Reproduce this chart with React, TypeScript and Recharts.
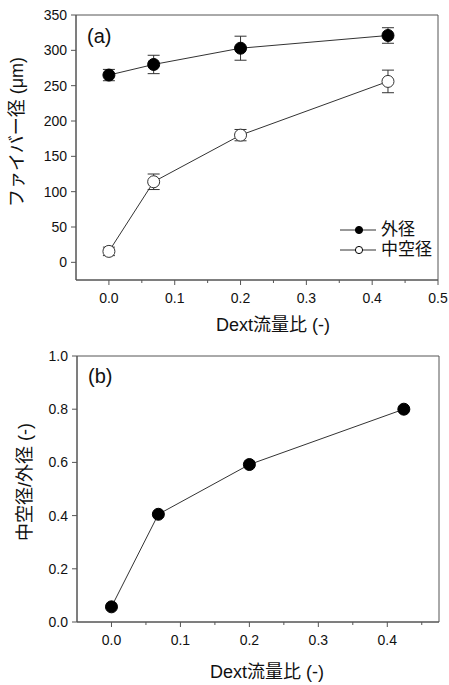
import React from "react";
import {
  LineChart,
  Line,
  XAxis,
  YAxis,
  ErrorBar,
  ReferenceArea,
} from "recharts";

// ---- data ----
const xValues = [0, 0.068, 0.2, 0.424];
const outerDia = [265, 280, 303, 321];
const outerErr = [8, 13, 17, 11];
const hollowDia = [15.5, 114, 180, 256];
const hollowErr = [6, 11, 8, 16];
const ratio = [0.057, 0.405, 0.592, 0.8];

const xTicksA = [0, 0.05, 0.1, 0.15, 0.2, 0.25, 0.3, 0.35, 0.4, 0.45, 0.5];
const xTicksB = [0, 0.05, 0.1, 0.15, 0.2, 0.25, 0.3, 0.35, 0.4, 0.45];
const yTicksA = [0, 50, 100, 150, 200, 250, 300, 350];
const yTicksB = [0, 0.2, 0.4, 0.6, 0.8, 1.0];

const legendLabels = ["外径", "中空径"];
const xTitle = "Dext流量比 (-)";
const yTitleA = "ファイバー径 (μm)";
const yTitleB = "中空径/外径 (-)";

const dataA = xValues.map((x, i) => ({
  x,
  outer: outerDia[i],
  outerErr: outerErr[i],
  hollow: hollowDia[i],
  hollowErr: hollowErr[i],
}));
const dataB = xValues.map((x, i) => ({ x, ratio: ratio[i] }));

const FONT = '"Liberation Sans", Arial, "Noto Sans CJK JP", sans-serif';
const AXIS = "#555";
const LINE = "#333";
const TEXT = "#111";

const XTick = (props: any) => {
  const { x, y, payload } = props;
  const v = payload.value as number;
  const major = Math.abs(v * 10 - Math.round(v * 10)) < 1e-6;
  return (
    <g>
      <line x1={x} x2={x} y1={y} y2={y + (major ? 5 : 3)} stroke={AXIS} strokeWidth={1} />
      {major && (
        <text x={x} y={y + 23} textAnchor="middle" fontSize={14} fontFamily={FONT} fill={TEXT}>
          {v.toFixed(1)}
        </text>
      )}
    </g>
  );
};

const makeXTitle = (dx: number, dy: number) => (props: any) => {
  const vb = props.viewBox || {};
  return (
    <text
      x={vb.x + vb.width / 2 + dx}
      y={vb.y + dy}
      textAnchor="middle"
      fontSize={18}
      fontFamily={FONT}
      fill={TEXT}
    >
      {xTitle}
    </text>
  );
};

const makeYTitle = (text: string, cxOff: number, cyOff: number) => (props: any) => {
  const vb = props.viewBox || {};
  const cx = vb.x + cxOff;
  const cy = vb.y + vb.height / 2 + cyOff;
  return (
    <text
      x={cx}
      y={cy}
      transform={`rotate(-90, ${cx}, ${cy})`}
      textAnchor="middle"
      dominantBaseline="central"
      fontSize={18}
      fontFamily={FONT}
      fill={TEXT}
    >
      {text}
    </text>
  );
};

const tickStyle = { fontSize: 14, fontFamily: FONT, fill: TEXT };

const LegendRow = ({ filled, label }: { filled: boolean; label: string }) => (
  <div style={{ display: "flex", alignItems: "center", height: 20 }}>
    <svg width={43} height={20} style={{ display: "block" }}>
      <line x1={2} x2={38} y1={10} y2={10} stroke={LINE} strokeWidth={1} />
      <circle cx={21} cy={10} r={3.6} fill={filled ? "#000" : "#fff"} stroke="#000" strokeWidth={1} />
    </svg>
    <span style={{ fontSize: 17, fontFamily: FONT, color: TEXT, lineHeight: "20px" }}>{label}</span>
  </div>
);

export default function App() {
  return (
    <div
      style={{
        position: "absolute",
        left: 0,
        top: 0,
        width: 449,
        height: 685,
        background: "#fff",
        overflow: "hidden",
      }}
    >
      {/* Chart (a) */}
      <div style={{ position: "absolute", left: 0, top: 0, width: 449, height: 340 }}>
        <LineChart width={449} height={340} data={dataA} margin={{ top: 15, right: 11, left: 0, bottom: 0 }}>
          <ReferenceArea x1={-0.05} x2={0.5} y1={-25} y2={350} fill="none" fillOpacity={0} stroke={AXIS} strokeWidth={1} />
          <XAxis
            dataKey="x"
            type="number"
            domain={[-0.05, 0.5]}
            ticks={xTicksA}
            interval={0}
            height={60}
            tickSize={0}
            tickMargin={0}
            tick={<XTick />}
            tickLine={false}
            axisLine={{ stroke: AXIS }}
            allowDataOverflow
            label={{ content: makeXTitle(16, 51) }}
          />
          <YAxis
            type="number"
            domain={[-25, 350]}
            ticks={yTicksA}
            interval={0}
            width={76}
            tickSize={5}
            tickMargin={4}
            tick={tickStyle}
            tickLine={{ stroke: AXIS }}
            axisLine={{ stroke: AXIS }}
            allowDataOverflow
            label={{ content: makeYTitle(yTitleA, 17, -15.5) }}
          />
          <Line
            dataKey="outer"
            stroke={LINE}
            strokeWidth={1}
            isAnimationActive={false}
            dot={{ r: 6, fill: "#000", stroke: "#000", strokeWidth: 1 }}
            activeDot={false}
          >
            <ErrorBar dataKey="outerErr" width={6} stroke={LINE} strokeWidth={1} direction="y" />
          </Line>
          <Line
            dataKey="hollow"
            stroke={LINE}
            strokeWidth={1}
            isAnimationActive={false}
            dot={{ r: 6, fill: "#fff", stroke: "#333", strokeWidth: 1 }}
            activeDot={false}
          >
            <ErrorBar dataKey="hollowErr" width={6} stroke={LINE} strokeWidth={1} direction="y" />
          </Line>
        </LineChart>
        <div
          style={{
            position: "absolute",
            left: 87,
            top: 24,
            fontSize: 20,
            lineHeight: "24px",
            fontFamily: FONT,
            color: TEXT,
          }}
        >
          (a)
        </div>
        <div style={{ position: "absolute", left: 338, top: 220 }}>
          <LegendRow filled label={legendLabels[0]} />
          <LegendRow filled={false} label={legendLabels[1]} />
        </div>
      </div>

      {/* Chart (b) */}
      <div style={{ position: "absolute", left: 0, top: 340, width: 449, height: 345 }}>
        <LineChart width={449} height={345} data={dataB} margin={{ top: 16, right: 10, left: 0, bottom: 0 }}>
          <ReferenceArea x1={-0.05} x2={0.475} y1={0} y2={1} fill="none" fillOpacity={0} stroke={AXIS} strokeWidth={1} />
          <XAxis
            dataKey="x"
            type="number"
            domain={[-0.05, 0.475]}
            ticks={xTicksB}
            interval={0}
            height={63}
            tickSize={0}
            tickMargin={0}
            tick={<XTick />}
            tickLine={false}
            axisLine={{ stroke: AXIS }}
            allowDataOverflow
            label={{ content: makeXTitle(9, 56) }}
          />
          <YAxis
            type="number"
            domain={[0, 1]}
            ticks={yTicksB}
            interval={0}
            width={77}
            tickSize={5}
            tickMargin={4}
            tick={tickStyle}
            tickFormatter={(v: number) => v.toFixed(1)}
            tickLine={{ stroke: AXIS }}
            axisLine={{ stroke: AXIS }}
            allowDataOverflow
            label={{ content: makeYTitle(yTitleB, 25, -7) }}
          />
          <Line
            dataKey="ratio"
            stroke={LINE}
            strokeWidth={1}
            isAnimationActive={false}
            dot={{ r: 6, fill: "#000", stroke: "#000", strokeWidth: 1 }}
            activeDot={false}
          />
        </LineChart>
        <div
          style={{
            position: "absolute",
            left: 88,
            top: 24,
            fontSize: 20,
            lineHeight: "24px",
            fontFamily: FONT,
            color: TEXT,
          }}
        >
          (b)
        </div>
      </div>
    </div>
  );
}
